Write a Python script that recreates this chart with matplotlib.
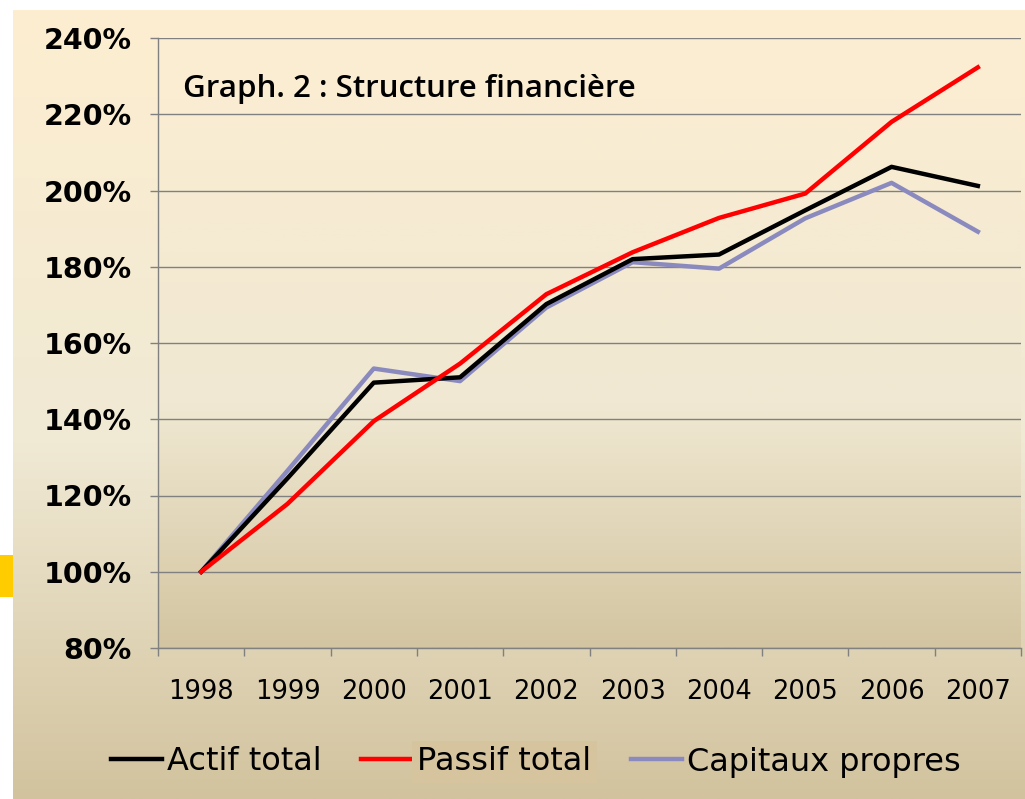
import numpy as np
import matplotlib.pyplot as plt
from matplotlib.patches import Rectangle

# Données (indice base 100 en 1998)
annees = ['1998', '1999', '2000', '2001', '2002', '2003', '2004', '2005', '2006', '2007']
actif_total = [100, 124.5, 149.6, 151.0, 170.2, 182.0, 183.2, 194.8, 206.2, 201.2]
passif_total = [100, 117.8, 139.5, 154.6, 172.8, 183.8, 192.8, 199.2, 218.0, 232.3]
capitaux_propres = [100, 126.5, 153.3, 150.0, 169.3, 181.2, 179.5, 192.7, 202.0, 189.2]

W, H = 1025, 799
fig = plt.figure(figsize=(W / 100, H / 100), dpi=100)
fig.patch.set_facecolor('white')


def gradient(stops, n=400):
    # stops: liste de (position 0..1 depuis le haut, (r,g,b))
    pos = np.array([s[0] for s in stops])
    cols = np.array([s[1] for s in stops], dtype=float) / 255
    t = np.linspace(0, 1, n)
    img = np.stack([np.interp(t, pos, cols[:, k]) for k in range(3)], axis=1)
    return img[:, None, :]


# fond général du graphique
bg = fig.add_axes([13 / W, 0, 1 - 13 / W, 1 - 10 / H])
bg.imshow(gradient([(0, (253, 238, 208)), (0.55, (240, 233, 212)), (1, (210, 195, 158))]),
          aspect='auto', extent=[0, 1, 0, 1])
bg.set_axis_off()

# petit rectangle jaune à gauche
fig.patches.append(Rectangle((0, 1 - 597 / H), 13 / W, 42 / H, transform=fig.transFigure,
                             facecolor='#FFCC00', edgecolor='none'))

left, right = 158 / W, 1021 / W
bottom, top = 1 - 648 / H, 1 - 38 / H
ax = fig.add_axes([left, bottom, right - left, top - bottom])
ax.set_facecolor('none')

x = np.arange(len(annees))
ax.set_xlim(-0.5, len(annees) - 0.5)
ax.set_ylim(80, 240)

ax.imshow(gradient([(0, (252, 238, 210)), (0.6, (240, 232, 210)), (1, (211, 197, 161))]),
          aspect='auto', extent=[-0.5, len(annees) - 0.5, 80, 240], zorder=0)

ax.set_yticks(np.arange(80, 241, 20))
ax.set_yticklabels([f'{v}%' for v in range(80, 241, 20)], fontsize=20.5, fontweight='bold')
ax.grid(axis='y', color='#808080', linewidth=1.0, zorder=1)
ax.tick_params(axis='y', length=6, color='#808080', width=1, pad=13)

ax.set_xticks(x)
ax.set_xticklabels(annees, fontsize=18.5)
ax.set_xticks(np.arange(-0.5, len(annees)), minor=True)
ax.tick_params(axis='x', which='major', length=0, pad=22)
ax.tick_params(axis='x', which='minor', length=6, color='#808080', width=1)

for s in ['top', 'right']:
    ax.spines[s].set_visible(False)
for s in ['left', 'bottom']:
    ax.spines[s].set_color('#808080')
    ax.spines[s].set_linewidth(1)

l1, = ax.plot(x, actif_total, color='black', lw=3.2, label='Actif total', zorder=4)
l2, = ax.plot(x, passif_total, color='#FF0000', lw=3.2, label='Passif total', zorder=5)
l3, = ax.plot(x, capitaux_propres, color='#8A8ABF', lw=3.2, label='Capitaux propres', zorder=3)

ax.text(183 / W, 1 - 89 / H, 'Graph. 2 : Structure financière', transform=fig.transFigure,
        fontsize=22.5, family='Open Sans', fontweight='semibold', va='center', ha='left')

leg = fig.legend(handles=[l1, l2, l3], loc='center', bbox_to_anchor=(536 / W, 1 - 762 / H),
                 ncol=3, frameon=False, fontsize=23, handlelength=1.6, handletextpad=0.15,
                 columnspacing=1.25)
leg.get_texts()[1].set_bbox(dict(facecolor='#D6C49E', edgecolor='none', pad=4))

fig.savefig('out.png', dpi=100)
